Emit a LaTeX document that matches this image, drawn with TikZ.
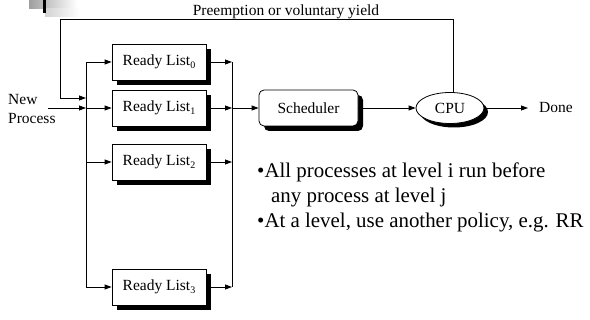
\documentclass[tikz,border=0pt]{standalone}
\usepackage{fontspec}
\setmainfont{Liberation Serif}
\usetikzlibrary{arrows.meta,shadows,shapes.geometric}
\newcommand{\lvlsub}[1]{\raisebox{-0.45ex}{\fontsize{10}{10}\selectfont #1}}
\begin{document}
\begin{tikzpicture}[x=1pt,y=-1pt,
  txt/.style={font=\fontsize{15.5}{19}\selectfont},
  bigtxt/.style={font=\fontsize{20.9}{25}\selectfont, inner sep=0pt, anchor=base west},
  listbox/.style={txt, draw, fill=white, line width=0.8pt, minimum width=94pt, minimum height=36pt, inner sep=0pt,
    drop shadow={shadow xshift=5pt, shadow yshift=-5pt, fill=black, opacity=1}},
  schedbox/.style={listbox, minimum width=99pt, rounded corners=5pt},
  cpubox/.style={txt, draw, fill=white, ellipse, line width=0.8pt, minimum width=68pt, minimum height=31pt, inner sep=0pt,
    drop shadow={shadow xshift=4pt, shadow yshift=-4pt, fill=black, opacity=1}},
  arr/.style={-{Triangle[length=7pt,width=5pt]}, line width=0.8pt},
  ln/.style={line width=0.8pt}]
\useasboundingbox (0,0) rectangle (590,320);

% top-left decoration
\shade[left color=gray!75, right color=white] (29,0) rectangle (77,9);
\shade[left color=gray!35, right color=white] (45,9) rectangle (80,17);
\fill[black] (43,0) rectangle (45.5,13);

% nodes
\node[listbox] (rl0) at (159,62) {Ready List\lvlsub{0}};
\node[listbox] (rl1) at (159,108) {Ready List\lvlsub{1}};
\node[listbox] (rl2) at (159,162) {Ready List\lvlsub{2}};
\node[listbox] (rl3) at (159,287) {Ready List\lvlsub{3}};
\node[schedbox] (sched) at (308.5,108) {Scheduler};
\node[cpubox] (cpu) at (450,108) {CPU};
\node[txt, anchor=west, inner ysep=0pt, inner xsep=11pt] (done) at (528,108) {Done};
\node[txt, anchor=west, align=left, inner sep=0pt] (np) at (8,109) {New\\Process};
\node[txt, anchor=base, inner sep=0pt] (pre) at (286,16) {Preemption or voluntary yield};

\node[bigtxt] (b1) at (257,178) {•All processes at level i run before};
\node[bigtxt] (b2) at (271,203) {any process at level j};
\node[bigtxt] (b3) at (257,228) {•At a level, use another policy, e.g. RR};

% bus coordinates
\coordinate (lbus) at (86,0);
\coordinate (rbus) at (232,0);
\coordinate (npstart) at (48,108);
\coordinate (fbtop) at (60,19);
\coordinate (fbend) at (86,98);

% buses
\draw[ln] (rl0.west -| lbus) -- (rl3.west -| lbus);
\draw[ln] (rl0.east -| rbus) -- (rl3.east -| rbus);

% arrows
\foreach \r in {rl0,rl1,rl2,rl3} {
  \draw[arr] (\r.west -| lbus) -- (\r.west);
  \draw[arr] (\r.east) -- (\r.east -| rbus);
}
\draw[arr] (npstart) -- (npstart -| lbus);
\draw[arr] (rl1.east -| rbus) -- (sched.west);
\draw[arr] (sched.east) -- (cpu.west);
\draw[arr] (cpu.east) -- (done.west);

% feedback
\draw[arr] ([xshift=3pt]cpu.north) |- (fbtop) |- (fbend);
\end{tikzpicture}
\end{document}
